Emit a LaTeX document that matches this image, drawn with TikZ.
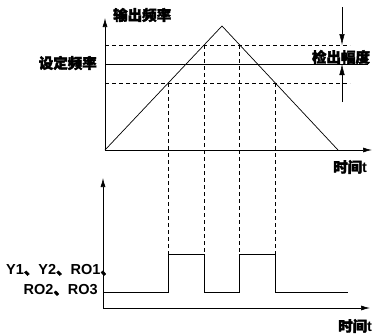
\documentclass[tikz,border=0pt]{standalone}
\usepackage{fontspec}
\setmainfont{Liberation Sans}
\newfontfamily\cjk{Noto Sans CJK SC}[FakeBold=2.5]
\usetikzlibrary{arrows.meta,calc}
\tikzset{
  >={Latex[length=9pt,width=5pt]},
  axis/.style={->, line width=0.7pt},
  sig/.style={line width=0.7pt},
  guide/.style={dashed, dash pattern=on 4pt off 3pt, line width=0.6pt},
  pointer/.style={-{Latex[length=11pt,width=5.5pt]}, line width=0.5pt},
  lbl/.style={font=\bfseries\fontsize{14.5}{16}\selectfont, inner sep=0pt},
}
\begin{document}
\begin{tikzpicture}[x=1pt,y=-1pt]
  \useasboundingbox (0,0) rectangle (373,335);
  % upper chart: output frequency
  \coordinate (o1) at (105,150);
  \coordinate (ytop) at (105,18);
  \coordinate (xend) at (372,150);
  \coordinate (peak) at (222,26);
  \coordinate (fall) at (338,150);
  \draw[axis] (o1) -- (ytop);
  \draw[axis] (o1) -- (xend);
  \draw[sig] (o1) -- (peak) -- (fall);
  % levels
  \coordinate (hiL) at (105,45);  \coordinate (hiR) at (350,45);
  \coordinate (setL) at (105,64); \coordinate (setR) at (368,64);
  \coordinate (loL) at (105,83);  \coordinate (loR) at (350,83);
  \draw[guide] (hiL) -- (hiR);
  \draw[sig] (setL) -- (setR);
  \draw[guide] (loL) -- (loR);
  % crossing points
  \coordinate (c1) at ($(o1)!{67/124}!(peak)$);
  \coordinate (c2) at ($(o1)!{105/124}!(peak)$);
  \coordinate (c3) at ($(peak)!{19/124}!(fall)$);
  \coordinate (c4) at ($(peak)!{57/124}!(fall)$);
  % lower chart: relay outputs
  \coordinate (o2) at (103,308);
  \coordinate (ytop2) at (103,178);
  \coordinate (xend2) at (370,308);
  \draw[axis] (o2) -- (ytop2);
  \draw[axis] (o2) -- (xend2);
  \coordinate (s0) at (103,292);
  \coordinate (s9) at (348,292);
  \draw[sig] (s0) -- (c1 |- s0) -- (c1 |- 0,254) -- (c2 |- 0,254) -- (c2 |- s0)
    -- (c3 |- s0) -- (c3 |- 0,254) -- (c4 |- 0,254) -- (c4 |- s0) -- (s9);
  \foreach \c in {c1,c2,c3,c4}
    \draw[guide] (\c) -- (\c |- 0,254);
  % detection band pointers
  \coordinate (p1) at (342,7);  \coordinate (p1t) at (342,45);
  \coordinate (p2) at (342,102); \coordinate (p2t) at (342,64);
  \draw[pointer] (p1) -- (p1t);
  \draw[pointer] (p2) -- (p2t);
  % labels
  \node[lbl, anchor=west] (fout) at (113,15) {\cjk 输出频率};
  \node[lbl, anchor=east] (fset) at (97,63) {\cjk 设定频率};
  \node[lbl] (band) at (341,57) {\cjk 检出幅度};
  \node[lbl, anchor=west] (time1) at (333,167) {{\cjk 时间}t};
  \node[lbl, anchor=west] (outs1) at (6,270) {Y1{\cjk 、}Y2{\cjk 、}RO1{\cjk 、}};
  \node[lbl, anchor=east] (outs2) at (98,290) {RO2{\cjk 、}RO3};
  \node[lbl, anchor=west] (time2) at (338,326) {{\cjk 时间}t};
\end{tikzpicture}
\end{document}
